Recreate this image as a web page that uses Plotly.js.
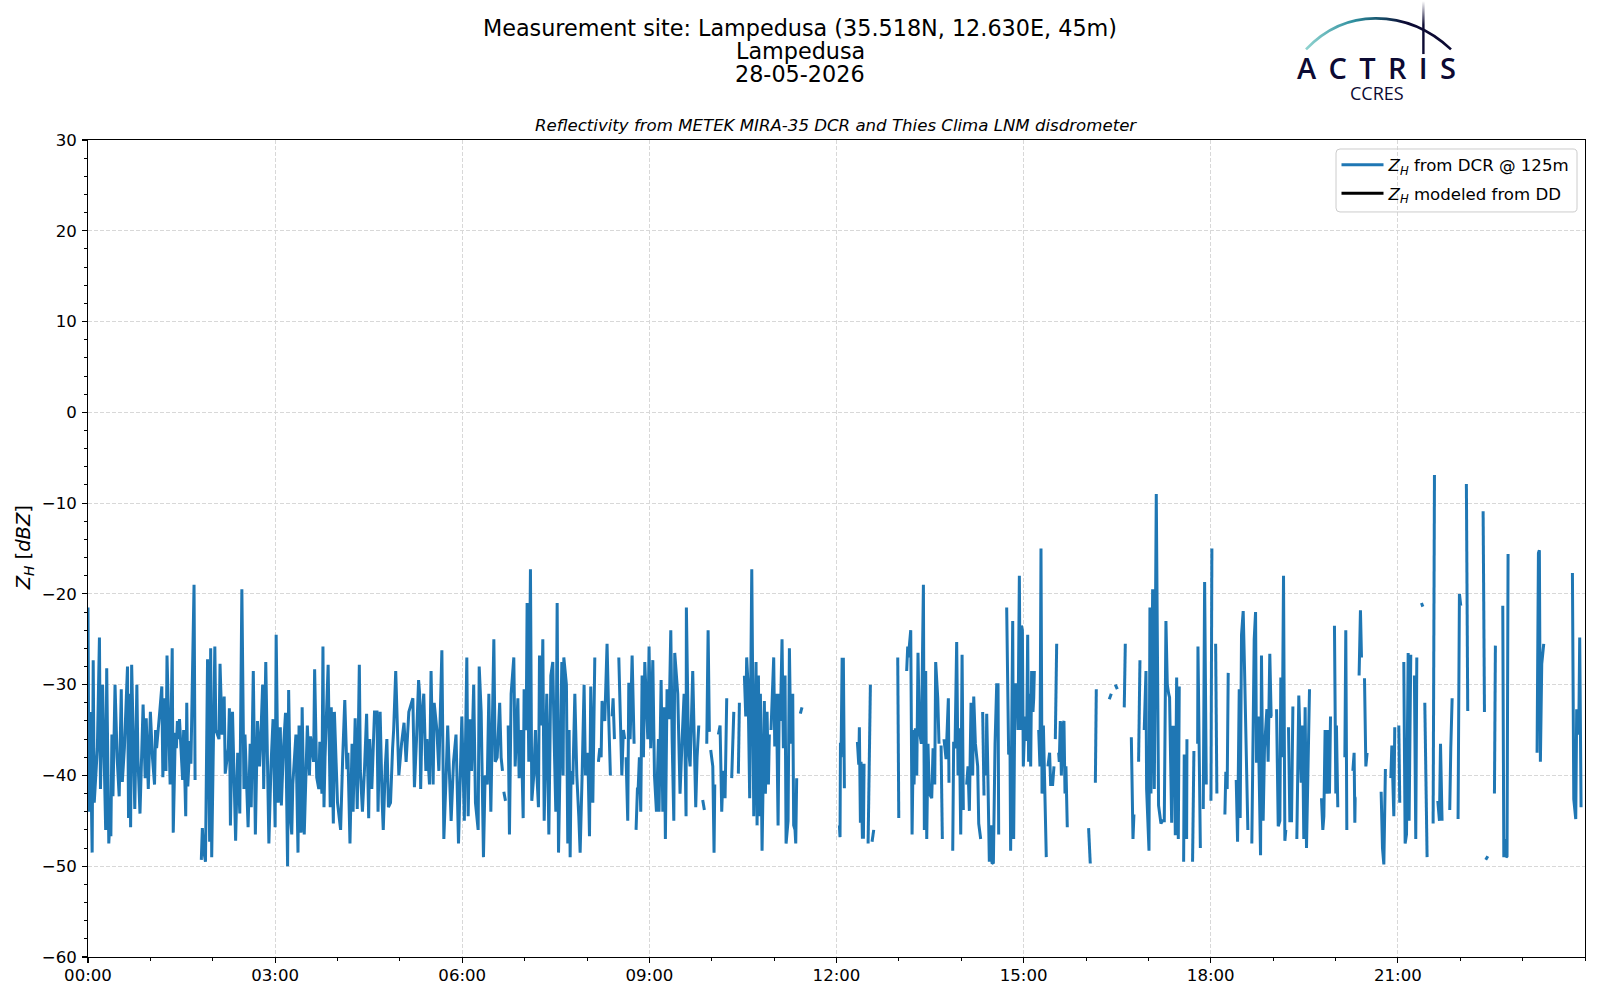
<!DOCTYPE html>
<html><head><meta charset="utf-8">
<script src="https://cdn.plot.ly/plotly-3.0.1.min.js"></script>
<style>html,body{margin:0;padding:0;background:#fff}</style></head>
<body><div id="chart" style="width:1600px;height:1000px"></div>
<script>
// Times are minutes after midnight; null in zh marks a gap in the radar record.
const minutesA=[0,1,2,4,5,6,9,11,12,14,15,17,18,20,21,22,23,24,26,28,30,32,33,35,38,39,40,41,42,44,45,47,48,50,53,55,56,58,60,62,64,65,66,69,71,72,74,75,76,79,81,82,84,85,86,87,88,89,91,92,94,95,96,98,99,102,103,106,109,110,111,113,115,117,118,119,122,123,126,127,129,131,132,135,136,137,139,142,144,146,148,150,151,154,156,157,159,161,163,165,166,168,169,171,174,176,178,180,181,183,185,186,188,190,192,193,195,196,197,200,202,203,205,206,208,211,213,214,217,218,220,222,223,225,226,227,228,231,233,234,236,237,240,243,245,247,249,250,252,254,255,257,259,261,262,264,266,268,270,271,273,275.6,278,279,281,283,284,286,287.5,289,291,293,294,296,299,301.6,304,306,308.6,312.5,314,316,318];
const zhA=[-21.5,-44,-33,-48.5,-27.3,-43,-37,-24.8,-41.5,-30,-35,-46,-28.2,-47.5,-45,-46.7,-35.5,-42.3,-30,-38,-42.3,-30.5,-40.7,-37,-28,-44.7,-31,-45.7,-27.8,-38.5,-43.7,-30,-38,-44.2,-32.2,-40.3,-33.7,-41.5,-33,-38,-41,-35,-37,-33,-30.2,-40.2,-31.5,-39.5,-26.8,-41,-26,-46.3,-35.3,-37,-34,-36,-33.8,-36,-40.5,-35,-44.5,-32,-41.2,-36.2,-38.7,-19,-40.5,null,-49.3,-45.8,-48,-49.5,-27.2,-47.3,-26,-49,-25.8,-35,-36,-27.7,-35.5,-31.3,-39.8,-37,-32.6,-45.5,-33,-47.2,-37.5,-44.2,-19.5,-41.5,-35.5,-45.7,-36.5,-43.5,-28.5,-46.5,-34,-39,-36.5,-30,-41.5,-27.5,-47.5,-39,-33.8,-45.7,-24.5,-43,-34.7,-43.3,-37,-33.1,-50,-30.6,-45,-46.5,-41,-35.5,-48.5,-34.5,-46.3,-32.5,-46.5,-34.5,-40,-35.7,-38.5,-28.3,-40.2,-41.5,-36.3,-42,-25.8,-43.5,-38,-27.8,-43.5,-32.5,-45.3,-33,-43,-46,-38,-31.7,-39.3,-37.5,-47.5,-36.5,-44,-33.7,-43.7,-27.8,-39.5,-44,-39.2,-33.2,-44.7,-36,-41.5,-33,-33,-44,-33,-43,-46,-39,-36,-43.5,-43,-37,-35,-28.5,-40,-36.5,-34.2,-38.5,-33,-31.5,-41.3,-36,-29.5];
const minutesB=[319,320,321.5,323,325,326,328.5,330,332,333,335.6,337.5,340.4,342.3,344.5,346,349.3,351.6,354,356.4,359.6,362,364.4,365.7,367.3,368.9,371,372.7,375.3,376.3,378.2,380.4,382,384,385.6,387.5,389,390.4,391.7,393.6,396,397.4,398.7,399.5,400,401.6,402.5,404.2,405.4,407,409.6,410.9,413.5,414.7,416.7,418.6,419.5,421.5,422.4,424,425.6,426.9,428.8,430.4,431.4,433.3,434.3,436.2,437.5,438.8,441.3,443.3,445.2,447.1,448.4,450,451.3,452.6,455.8,457,457.7,460.2,461.5,462.8,463.8,464.7,466.3,468.3,470.2,472.1,473.4,475.3,477.2,478.5,480.8,482.4,483.6,485.6,487.5,489.5,491,492.3,493.6,494.5,496.1,497.1,499.3,501,502.5,503,504.2,505.1,506.4,508,510.6,513.5,515,516.3,517,517.6,519.2,520.2,521.5,523.4,525.3,526.5,527.2,528.5,529.2,530.4,531.7,533,534.3,535.6,538.5,539.7,541.3,543.3,544.9,546.8,548.7,549.3,551.3,552.9,554.2,555.4,557,559,560.6,561.9,563.5,564.4,567.3,569.5,571.5,573.4,575.3,575.6,577.6,579.2,581.7,584.6,585.9,587.5,588.5,591.3,592.9,593.5,595.2,596.5,597.7,598.5,599,601,602.2,602.9,604,606.4,608,609.6,610.9,612.8,614.4,616,619.2,621.2,623,625.6,626.6,628,631.4,632.7,633.6,634.9,636.5,638.5,640.4,642.6,643.6,644.9,645.8,646.8,648.4,650.6,651.6,653.2,654.5,655.4,656,657,659.6,660.6,662.2,663.8,665,666,667.6,668.9,670.5,671.5,673.4,674.7,676,677.9,678.8,680.1,680.8,681.7,683,685.2,686.8,690];
const zhB=[-31,-41.5,-33,-31,-39.5,-36,-41,-28.5,-41,-32,-35,-39.5,-26.2,-47,-40,-34.5,-45,-38.5,-35.5,-47.5,-33.5,-45,-27,-44.5,-33.8,-39.5,-30,-43,-46,-28,-33,-49,-40,-41,-31,-44,-34,-25,-38.5,-38,-32,-38,-39.5,null,-41.8,-42.8,null,-34.5,-46.5,-31,-27,-39,-31.5,-40.3,-35,-44.7,-30.5,-35,-21,-38.5,-17.3,-42.8,-40,-35,-39,-43.5,-26.8,-34.5,-25,-45,-31,-46.5,-29,-27.5,-36,-44,-21,-48.5,-27.5,-40,-27,-30,-47.5,-35,-49,-39.5,-41,-31,-40,-44.5,-48.5,-40,-30,-40,-37.5,-46.7,-30.2,-43,-27,null,-38.5,-37,-38,-31.8,-33.5,-34,-25.5,-34,-40,null,-33.5,-31.5,-36,null,-27,-40,-35,-36,null,-38,-45,-29.8,-36,-26.8,-36.5,null,-46,-41.5,-41.5,-38,-44,-29,-38,-27.5,-36,-25.8,-37,-27.3,-40,-44,-36,-44,-29.5,-44,-32.5,-47,-30.5,-33.8,-24,-36,-45,-26.5,-31,-42,-36,-31,-44.5,-21.5,-37,-39,-28.5,-43.5,-38,-34.5,null,-42.7,-43.8,null,-36.5,-24,-35.2,null,-37.2,-39,-48.5,-41,null,-35.5,-34.5,-44,-39.5,-42.5,-31.5,null,-40.3,-33,null,-39.8,-32,null,-29,-33.5,-27,-30,-42.5,-17.3,-44.5,-27.5,-45.5,-29,-44.5,-31,-48.3,-31.8,-42,-33,-41,-35.5,null,-35,-27,-36.8,-31,-45.5,-31,-34,-25,-37,-29,-47.5,-45,-26,-36.5,-31,-45.5,-46,-47.5,-40.3,null,-33.2,-32.5,null];
const minutesC=[722.8,723.4,723.8,724.4,725.4,726.6,727.6,730,740.1,741.4,742,743,743.6,744.9,745.9,746.5,748,750.4,752.6,753.5,754.2,755.8,758,778.9,779.9,785,787.5,788.5,789.1,791.4,792.7,794,794.6,795.9,797.2,798.4,799.7,801.6,803.6,804.5,805.8,806.8,808,809.3,811.6,812.9,814.5,815.4,817.4,818.6,819.5,820.6,821.8,822.3,823.4,825.4,827.6,828.2,830,831.8,832.7,834,835.6,836.9,838.2,839.5,840.8,842,843.5,845.2,846.5,847.8,849.4,851,852,853.6,855.8,856.8,858.7,859.5,860.6,861.9,862.5,863.8,864.5,865.4,867,868.6,869.6,870.9,872.5,874.1,875.4,876,878,883.7,885.6,886.9,887.5,889.5,890.4,891.7,893.6,894.6,895.9,896.8,897.8,898.8,899.7,901.3,902.9,903.9,904.8,905.8,906.8,907.7,909,909.7,910.3,912,914.5,915.7,916.7,917.7,919,921.8,922.8,923.4,925,926,927.9,929.2,929.8,930.5,931.8,932.8,933.7,934.3,935.3,936.3,937.5,938.8,939.8,940.7,942,960,962.5,964.1,966,969,969.9,975,982.4,984.3,985.5,988.2,990.1,992,996.8,997.8,1000,1003.6,1005.2,1006.1,1008,1010.6,1011.9,1013,1016,1017.7,1018.3,1020.6,1021.5,1022.5,1024.1,1025.7,1027.6,1029.8,1032.1,1033.7,1035.3,1036.9,1038.2,1039.5,1040.4,1042.4,1043.3,1044.9,1045.9,1047.2,1048.8,1049.7,1052,1053.9,1054.5,1056.8,1057.1,1058,1062.5,1063.8,1064.5,1067.4,1067.7,1070,1071,1072.8,1074.1,1075.7,1077,1080.2,1081.1,1082.5,1084.7,1085.9,1090];
const zhC=[-45.5,-46.8,-36.4,-38,-27.2,-27.2,-41.4,null,-36.3,-38.8,-34.7,-45.2,-38.5,-46.8,-46.8,-38.7,null,-47.5,-30,null,-47.3,-46,null,-27,-44.7,null,-28.5,-25.8,-27,-24,-46.5,-35,-41,-34.8,-40,-26.5,-35,-36.5,-19,-46,-28.5,-47,-36.5,-42,-42.5,-37,-41,-27.5,-31.5,-36.5,null,-36.7,-47,null,-36,-38.2,-31.5,-40.8,null,-48.3,-36.3,-37,-25.3,-40,-34.8,-46.5,-26.7,-43.8,null,-41,-39,-43.9,-32,-40,-31.3,-36.5,-39,-45.3,-47,null,-33,-42.2,null,-40,-33.2,-38.5,-49.5,-45.5,-49.6,-49.7,-36.5,-30,-30,-46.5,null,-21.5,-37.7,-37,-48.3,-23,-47,-30,-30,-35,-18,-35,-23.5,-24,-39,-33.5,-36.2,-24.5,-38.5,-31,-39,-28.5,-33,-31.5,-28.5,null,-35,-39,-15,-42,-34.5,-49,null,-39,-37.5,-41,-41,-39,null,-36,-25.5,null,-37.5,-38.5,-34,-40,-34.5,-34,-42,-39,-45.7,null,-45.8,-49.7,null,-40.8,-30.5,null,-31.6,-31,null,-30,-30.5,null,-32.5,-25.5,null,-35.8,-47,-44.3,null,-38.5,-27.3,null,-35,-28.5,-41.5,-48.3,-21.5,-42,-19.5,-41.5,-9,-43.3,-45.3,-45,-45,-23,-30,-31,-31.4,-45.2,-34.7,-34.7,-46.6,-29.2,-47,-30.2,null,-49.5,-37.7,-47,-36,null,-49.5,-37.3,null,-36.5,-25.8,-48,null,-43.7,-18.7,-41,null,-42.8,-15,null,-25.5,-42,null];
const minutesD=[1093.6,1094.5,1095.8,1096.8,1099,1104.5,1105.8,1107.4,1108.3,1109.6,1111.2,1112.5,1115.7,1117,1119.5,1121.8,1123.1,1124,1125.6,1127.9,1128.8,1130.4,1131.7,1134,1135.2,1136.8,1138.1,1139.1,1140,1143.3,1144.9,1146.5,1147.4,1148.7,1150,1151.3,1152.2,1153,1154.8,1156.1,1157.7,1159,1161,1162.8,1164.7,1167,1168.3,1169.5,1170.8,1172.1,1175,1178,1186.5,1187.8,1188.8,1190,1191.3,1192.6,1194.2,1195.2,1198,1199,1200.3,1200.9,1202.2,1205,1209,1209.9,1210.9,1213,1216.7,1217.9,1218.6,1218.9,1220.2,1221,1222.7,1224,1225,1226,1227.9,1229.2,1230.4,1235,1243.9,1245.2,1246.5,1248,1250,1253.2,1254.2,1256.1,1257,1258,1260.9,1261.8,1263,1265.7,1267,1268.3,1269.9,1270.8,1272.4,1273,1275.9,1277.2,1278.2,1279,1282.7,1284,1285,1285.9,1288.1,1290,1293.9,1295.2,1297,1298.4,1300,1301,1302.5,1305,1309.9,1310.9,1312.2,1314,1317.9,1319.2,1320.5,1321,1325.9,1327.2,1330,1342,1343.3,1344,1344.5,1346.5,1348,1352.9,1353.8,1356,1360.9,1361.9,1363.1,1364.1,1365,1366,1370,1393.9,1395.2,1396.1,1397.1,1398.4,1400.3,1410,1427.9,1429.2,1431.1,1432,1434,1434.9,1436.2];
const zhD=[-44.3,-39.6,-41.5,-28.7,null,-40.5,-47.3,-30.5,-44.7,-24.5,-21.9,-28.3,-46,null,-47.5,-25,-22,-38.6,-33.5,-48.8,-26.8,-45,-37,-32.7,-38.5,-26.6,-33.5,-33.5,null,-32.7,-45.6,-45,-29.2,-38,-18,-47.2,-46,null,-34.7,-45,-45,-32.4,null,-47,-31.2,-40.8,-34.5,-47,-32.5,-48,-30.5,null,-42.5,-46,-44.5,-35,-42,-35,-42,-33.5,null,-23.5,-42,-34.5,-43.5,null,-38,-24,-46,null,-39.5,-37.5,-45.2,-42.5,-42.5,null,-29,-21.8,-27,null,-29.3,-39,-37.5,null,-41.8,-48,-49.8,-39.3,null,-40.3,-36.7,-44.5,-34.7,null,-34.5,-43,null,-27.5,-47.5,-46.5,-26.5,-45,-26.7,null,-29,-47,-27,null,-21,-21.4,null,-32,-49,null,-45.3,-6.9,null,-42.8,-45,-36.5,-45,null,-43.8,-37,-31.5,null,-44.8,-20,-21.3,null,-7.9,-32.9,null,-10.9,-33,null,-49.3,-48.9,null,-42,-25.7,null,-21.3,-49,-47,-49,-48.9,-15.6,null,-37.5,-15.5,-15.2,-38.5,-27.7,-25.5,null,-17.7,-42.6,-44.8,-32.7,-35.5,-24.8,-43.5];

const radarLabel='<i>Z<sub>H</sub></i> from DCR @ 125m';
const modelLabel='<i>Z<sub>H</sub></i> modeled from DD';
const hourTicks=[0,180,360,540,720,900,1080,1260];
const hourLabels=['00:00','03:00','06:00','09:00','12:00','15:00','18:00','21:00'];
const titleLines=['Measurement site: Lampedusa (35.518N, 12.630E, 45m)','Lampedusa','28-05-2026'];
const subtitle='Reflectivity from METEK MIRA-35 DCR and Thies Clima LNM disdrometer';
const logoWord='A\u00A0\u2009C\u00A0\u2009T\u00A0\u2009R\u00A0\u2009I\u00A0\u2009S';
const font='"DejaVu Sans", sans-serif';
const logoFont='"Open Sans", sans-serif';
const W=1600,H=1000;
const L=88,R=1585,T=140,B=957.5;
const ax=x=>(x-L)/(R-L), ay=y=>(B-y)/(B-T);

const traces=[
 {x:[].concat(minutesA,minutesB,minutesC,minutesD),y:[].concat(zhA,zhB,zhC,zhD),type:'scatter',mode:'lines',name:radarLabel,legendgroup:'a',
  connectgaps:false,line:{color:'#1f77b4',width:3,simplify:false,shape:'linear'},hoverinfo:'skip'},
 {x:[-100,-99],y:[-100,-99],type:'scatter',mode:'lines',name:modelLabel,legendgroup:'b',line:{color:'#000000',width:3},hoverinfo:'skip'}
];

const logoSvg='<svg xmlns="http://www.w3.org/2000/svg" width="160" height="60" viewBox="0 0 160 60">'+
 '<defs><linearGradient id="g" x1="0" x2="1" y1="0" y2="0"><stop offset="0" stop-color="#8fd3cf"/><stop offset="0.33" stop-color="#2f8f9f"/><stop offset="0.49" stop-color="#1a5a72"/><stop offset="0.68" stop-color="#0c0a33"/></linearGradient>'+
 '<linearGradient id="v" x1="0" x2="0" y1="0" y2="1"><stop offset="0" stop-color="#ffffff"/><stop offset="0.45" stop-color="#0c0a33"/></linearGradient></defs>'+
 '<path d="M6 49.3 Q 36 18 76 18.3 Q 118 18.5 151 49.3" fill="none" stroke="url(#g)" stroke-width="2.6"/>'+
 '<rect x="122.2" y="1" width="2.4" height="53" fill="url(#v)"/></svg>';

const ann=[];
[28,51,73.5].forEach((y,i)=>ann.push({xref:'paper',yref:'paper',x:ax(800),y:ay(y),xanchor:'center',yanchor:'middle',text:titleLines[i],showarrow:false,font:{family:font,size:22.3,color:'#000'}}));
ann.push({xref:'paper',yref:'paper',x:ax(836),y:ay(125),xanchor:'center',yanchor:'middle',text:'<i>'+subtitle+'</i>',showarrow:false,font:{family:font,size:16.6,color:'#000'}});
ann.push({xref:'paper',yref:'paper',x:ax(1376),y:ay(67),xanchor:'center',yanchor:'middle',text:logoWord,showarrow:false,font:{family:logoFont,size:29,weight:600,color:'#0c0a33'}});
ann.push({xref:'paper',yref:'paper',x:ax(1377),y:ay(92.5),xanchor:'center',yanchor:'middle',text:'CCRES',showarrow:false,font:{family:logoFont,size:18,color:'#0c0a33'}});
ann.push({xref:'paper',yref:'paper',x:ax(24.5),y:ay(548),xanchor:'center',yanchor:'middle',textangle:-90,text:'<i>Z<sub>H</sub></i> [<i>dBZ</i>]',showarrow:false,font:{family:font,size:19.5,color:'#000'}});

const roundedBox=(x0,x1,y0,y1,r)=>{const f=(x,y)=>ax(x).toFixed(5)+','+ay(y).toFixed(5);
 return 'M'+f(x0+r,y0)+'L'+f(x1-r,y0)+'Q'+f(x1,y0)+' '+f(x1,y0+r)+'L'+f(x1,y1-r)+'Q'+f(x1,y1)+' '+f(x1-r,y1)+'L'+f(x0+r,y1)+'Q'+f(x0,y1)+' '+f(x0,y1-r)+'L'+f(x0,y0+r)+'Q'+f(x0,y0)+' '+f(x0+r,y0)+'Z';};

const axisStyle={ticks:'outside',ticklen:4.5,tickwidth:1.2,tickcolor:'#000',showline:true,linecolor:'#000',linewidth:1.3,mirror:true,zeroline:false,
  showgrid:true,gridcolor:'#d8d8d8',griddash:'4px,2px',gridwidth:1,tickfont:{family:font,size:16.6,color:'#000'}};

const layout={width:W,height:H,margin:{l:L,r:W-R,t:T,b:H-B,pad:0},paper_bgcolor:'#fff',plot_bgcolor:'#fff',
 font:{family:font,color:'#000'},showlegend:true,
 legend:{xref:'paper',yref:'paper',x:ax(1336.5),y:ay(147.5),xanchor:'left',yanchor:'top',bgcolor:'rgba(255,255,255,0)',borderwidth:0,font:{family:font,size:16.6},itemwidth:42,tracegroupgap:4,traceorder:'grouped'},
 xaxis:Object.assign({},axisStyle,{range:[0,1440],tickmode:'array',tickvals:hourTicks,ticktext:hourLabels,ticklabelstandoff:-2,
  minor:{dtick:60,tick0:0,ticks:'outside',ticklen:2.5,tickwidth:1,tickcolor:'#000',showgrid:false}}),
 yaxis:Object.assign({},axisStyle,{range:[-60,30],tick0:-60,dtick:10,tickmode:'linear',ticklabelstandoff:2,
  minor:{dtick:2,tick0:-60,ticks:'outside',ticklen:2.5,tickwidth:1,tickcolor:'#000',showgrid:false}}),
 annotations:ann,
 shapes:[{type:'path',xref:'paper',yref:'paper',layer:'above',line:{color:'#cccccc',width:1},fillcolor:'rgba(255,255,255,0)',path:roundedBox(1336,1577,149,212,4)}],
 images:[{source:'data:image/svg+xml;base64,'+btoa(logoSvg),xref:'paper',yref:'paper',x:ax(1300),y:ay(0),sizex:160/(R-L),sizey:60/(B-T),xanchor:'left',yanchor:'top',sizing:'stretch',layer:'above'}]
};
Plotly.newPlot('chart',traces,layout,{displayModeBar:false,staticPlot:true});
</script></body></html>
